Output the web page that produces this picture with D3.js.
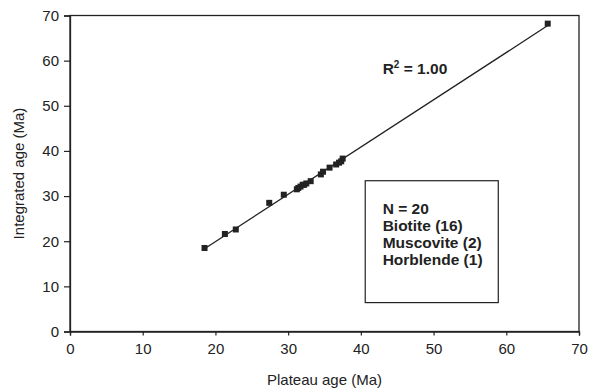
<!DOCTYPE html>
<html>
<head>
<meta charset="utf-8">
<script src="https://cdn.jsdelivr.net/npm/d3@7"></script>
<style>
  body { margin: 0; background: #fff; }
  svg text { font-family: "Liberation Sans", Arial, sans-serif; fill: #222; }
</style>
</head>
<body>
<svg id="chart" width="589" height="389"></svg>
<script>
// plateau age vs integrated age (Ma)
const plateauAge = [18.5, 21.3, 22.8, 27.4, 29.4, 31.2, 31.4, 31.7, 32.0, 32.2, 32.5, 33.1,
                    34.5, 34.8, 35.7, 36.6, 37.0, 37.3, 37.5, 65.7];
const integratedAge = [18.5, 21.6, 22.6, 28.5, 30.3, 31.5, 31.8, 32.1, 32.5, 32.5, 32.8, 33.3,
                       34.8, 35.4, 36.3, 37.0, 37.4, 37.7, 38.3, 68.2];
const xTicks = [0, 10, 20, 30, 40, 50, 60, 70];
const yTicks = [0, 10, 20, 30, 40, 50, 60, 70];
const legendLines = ["N = 20", "Biotite (16)", "Muscovite (2)", "Horblende (1)"];
const r2Label = "1.00";

const svg = d3.select("#chart");
const margin = {left: 70, right: 10, top: 15.5, bottom: 57.5};
const W = 589, H = 389;

let x = d3.scaleLinear().domain([0, 70]).range([margin.left, W - margin.right]);
let y = d3.scaleLinear().domain([0, 70]).range([H - margin.bottom, margin.top]);

// plot frame
svg.append("rect")
    .attr("x", x(0)).attr("y", y(70))
    .attr("width", x(70) - x(0)).attr("height", y(0) - y(70))
    .attr("fill", "none").attr("stroke", "#222").attr("stroke-width", 1.3);

let xAxis = svg.append("g")
    .attr("transform", "translate(0," + y(0) + ")")
    .call(d3.axisBottom(x).tickValues(xTicks).tickSize(4).tickPadding(8));
let yAxis = svg.append("g")
    .attr("transform", "translate(" + x(0) + ",0)")
    .call(d3.axisLeft(y).tickValues(yTicks).tickSize(6).tickPadding(5));

[xAxis, yAxis].forEach(a => {
    a.select(".domain").attr("stroke", "#222").attr("stroke-width", 1.3);
    a.selectAll(".tick line").attr("stroke", "#222").attr("stroke-width", 1.2);
    a.selectAll(".tick text").attr("font-size", 15).attr("fill", "#222")
        .attr("font-family", "Liberation Sans, Arial, sans-serif");
});

// least squares fit through the points
let pts = plateauAge.map((d, i) => [d, integratedAge[i]]);
let mx = d3.mean(plateauAge), my = d3.mean(integratedAge);
let slope = d3.sum(pts, p => (p[0] - mx) * (p[1] - my)) / d3.sum(pts, p => (p[0] - mx) ** 2);
let icpt = my - slope * mx;
let xr = d3.extent(plateauAge);

svg.append("line")
    .attr("x1", x(xr[0])).attr("y1", y(icpt + slope * xr[0]))
    .attr("x2", x(xr[1])).attr("y2", y(icpt + slope * xr[1]))
    .attr("stroke", "#222").attr("stroke-width", 1.3);

svg.selectAll(".pt").data(pts).join("rect")
    .attr("class", "pt")
    .attr("x", d => x(d[0]) - 3).attr("y", d => y(d[1]) - 3)
    .attr("width", 6).attr("height", 6)
    .attr("fill", "#222");

// R squared label
let r2 = svg.append("text")
    .attr("x", x(43.0)).attr("y", y(57.0))
    .attr("font-size", 15.5).attr("font-weight", "bold");
r2.append("tspan").text("R");
r2.append("tspan").attr("font-size", 10).attr("dy", -6).text("2");
r2.append("tspan").attr("dy", 6).text(" = " + r2Label);

// legend box
svg.append("rect")
    .attr("x", x(40.6)).attr("y", y(33.4))
    .attr("width", x(58.9) - x(40.6)).attr("height", y(6.4) - y(33.4))
    .attr("fill", "#fff").attr("stroke", "#222").attr("stroke-width", 1.2);

svg.selectAll(".leg").data(legendLines).join("text")
    .attr("class", "leg")
    .attr("x", x(43.0))
    .attr("y", (d, i) => y(26.0) + i * 17)
    .attr("font-size", 15.5).attr("font-weight", "bold")
    .text(d => d);

// axis titles
svg.append("text")
    .attr("x", (x(0) + x(70)) / 2).attr("y", 385)
    .attr("text-anchor", "middle").attr("font-size", 15)
    .text("Plateau age (Ma)");

svg.append("text")
    .attr("transform", "translate(24," + (y(0) + y(70)) / 2 + ") rotate(-90)")
    .attr("text-anchor", "middle").attr("font-size", 15)
    .text("Integrated age (Ma)");
</script>
</body>
</html>
